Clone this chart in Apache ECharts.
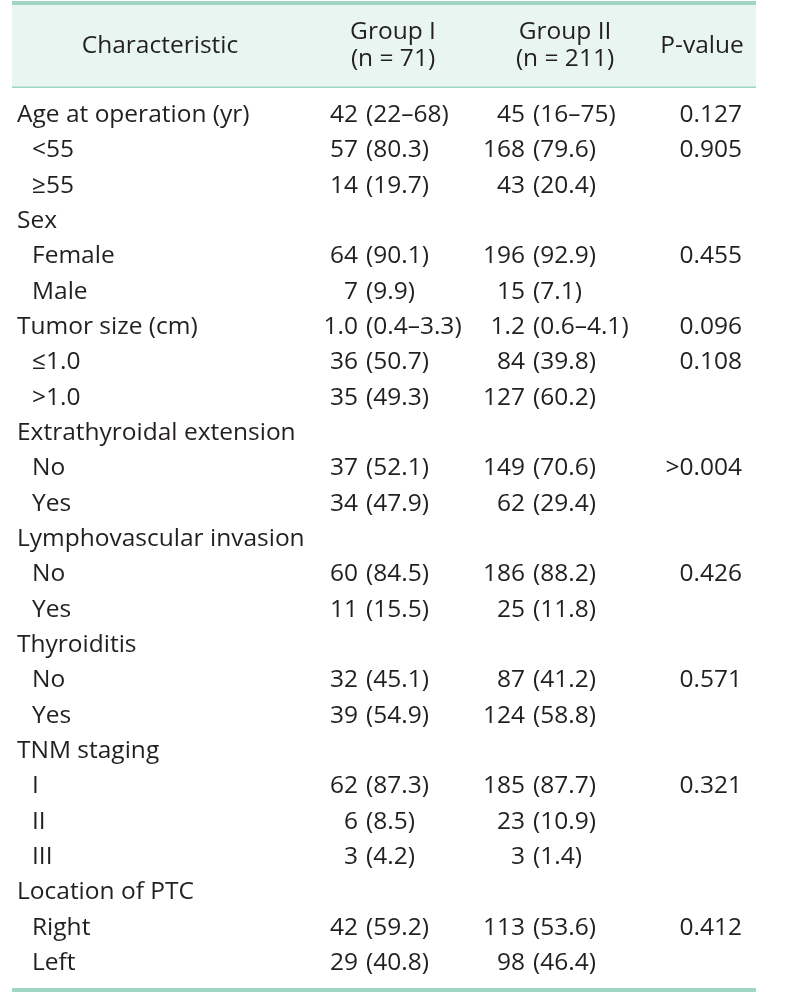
<!DOCTYPE html>
<html><head><meta charset="utf-8">
<script src="https://cdn.jsdelivr.net/npm/echarts@6/dist/echarts.min.js"></script>
<style>html,body{margin:0;padding:0;background:#fff}#c{width:797px;height:997px}</style>
</head><body><div id="c"></div>
<script>
const headers = ["Characteristic", "Group I\n(n = 71)", "Group II\n(n = 211)", "P-value"];
const characteristics = ["Age at operation (yr)", "<55", "≥55", "Sex", "Female", "Male", "Tumor size (cm)", "≤1.0", ">1.0", "Extrathyroidal extension", "No", "Yes", "Lymphovascular invasion", "No", "Yes", "Thyroiditis", "No", "Yes", "TNM staging", "I", "II", "III", "Location of PTC", "Right", "Left"];
const isSub = [0,1,1,0,1,1,0,1,1,0,1,1,0,1,1,0,1,1,0,1,1,1,0,1,1];
const group1 = ["42 (22–68)", "57 (80.3)", "14 (19.7)", "", "64 (90.1)", "7 (9.9)", "1.0 (0.4–3.3)", "36 (50.7)", "35 (49.3)", "", "37 (52.1)", "34 (47.9)", "", "60 (84.5)", "11 (15.5)", "", "32 (45.1)", "39 (54.9)", "", "62 (87.3)", "6 (8.5)", "3 (4.2)", "", "42 (59.2)", "29 (40.8)"];
const group2 = ["45 (16–75)", "168 (79.6)", "43 (20.4)", "", "196 (92.9)", "15 (7.1)", "1.2 (0.6–4.1)", "84 (39.8)", "127 (60.2)", "", "149 (70.6)", "62 (29.4)", "", "186 (88.2)", "25 (11.8)", "", "87 (41.2)", "124 (58.8)", "", "185 (87.7)", "23 (10.9)", "3 (1.4)", "", "113 (53.6)", "98 (46.4)"];
const pValues = ["0.127", "0.905", "", "", "0.455", "", "0.096", "0.108", "", "", ">0.004", "", "", "0.426", "", "", "0.571", "", "", "0.321", "", "", "", "0.412", ""];

const FONT = '"Open Sans", Lato, sans-serif';
const SIZE = 24.5;
const COL = '#231f20';
const TEAL = '#9fd6c6';
const L = 12, R = 756;
const rowY0 = 115, rowH = 35.33;

const els = [];
els.push({type:'rect', shape:{x:L, y:5, width:R-L, height:82}, style:{fill:'#e8f5f1'}});
els.push({type:'rect', shape:{x:L, y:1, width:R-L, height:4}, style:{fill:TEAL}});
els.push({type:'rect', shape:{x:L, y:86.5, width:R-L, height:1.5}, style:{fill:TEAL}});
els.push({type:'rect', shape:{x:L, y:988, width:R-L, height:4}, style:{fill:TEAL}});

function txt(x, y, s, align, extra) {
  els.push({type:'text', x:x, y:y, style:Object.assign({text:s, fill:COL, font:SIZE+'px '+FONT, align:align, verticalAlign:'middle', lineHeight:27}, extra||{})});
}
txt(160, 46, headers[0], 'center');
txt(393, 46, headers[1], 'center');
txt(565, 46, headers[2], 'center');
txt(702, 46, headers[3], 'center');

function cell(v, y, anchorNum, anchorPar) {
  if (!v) return;
  const i = v.indexOf(' (');
  txt(anchorNum, y, v.slice(0, i), 'right');
  txt(anchorPar, y, v.slice(i + 1), 'left');
}
characteristics.forEach((c, i) => {
  const y = rowY0 + i * rowH;
  txt(isSub[i] ? 32 : 17, y, c, 'left');
  cell(group1[i], y, 358, 366);
  cell(group2[i], y, 525, 533);
  if (pValues[i]) txt(742, y, pValues[i], 'right');
});

const chart = echarts.init(document.getElementById('c'));
chart.setOption({animation:false, graphic:{elements:els}});
</script></body></html>
